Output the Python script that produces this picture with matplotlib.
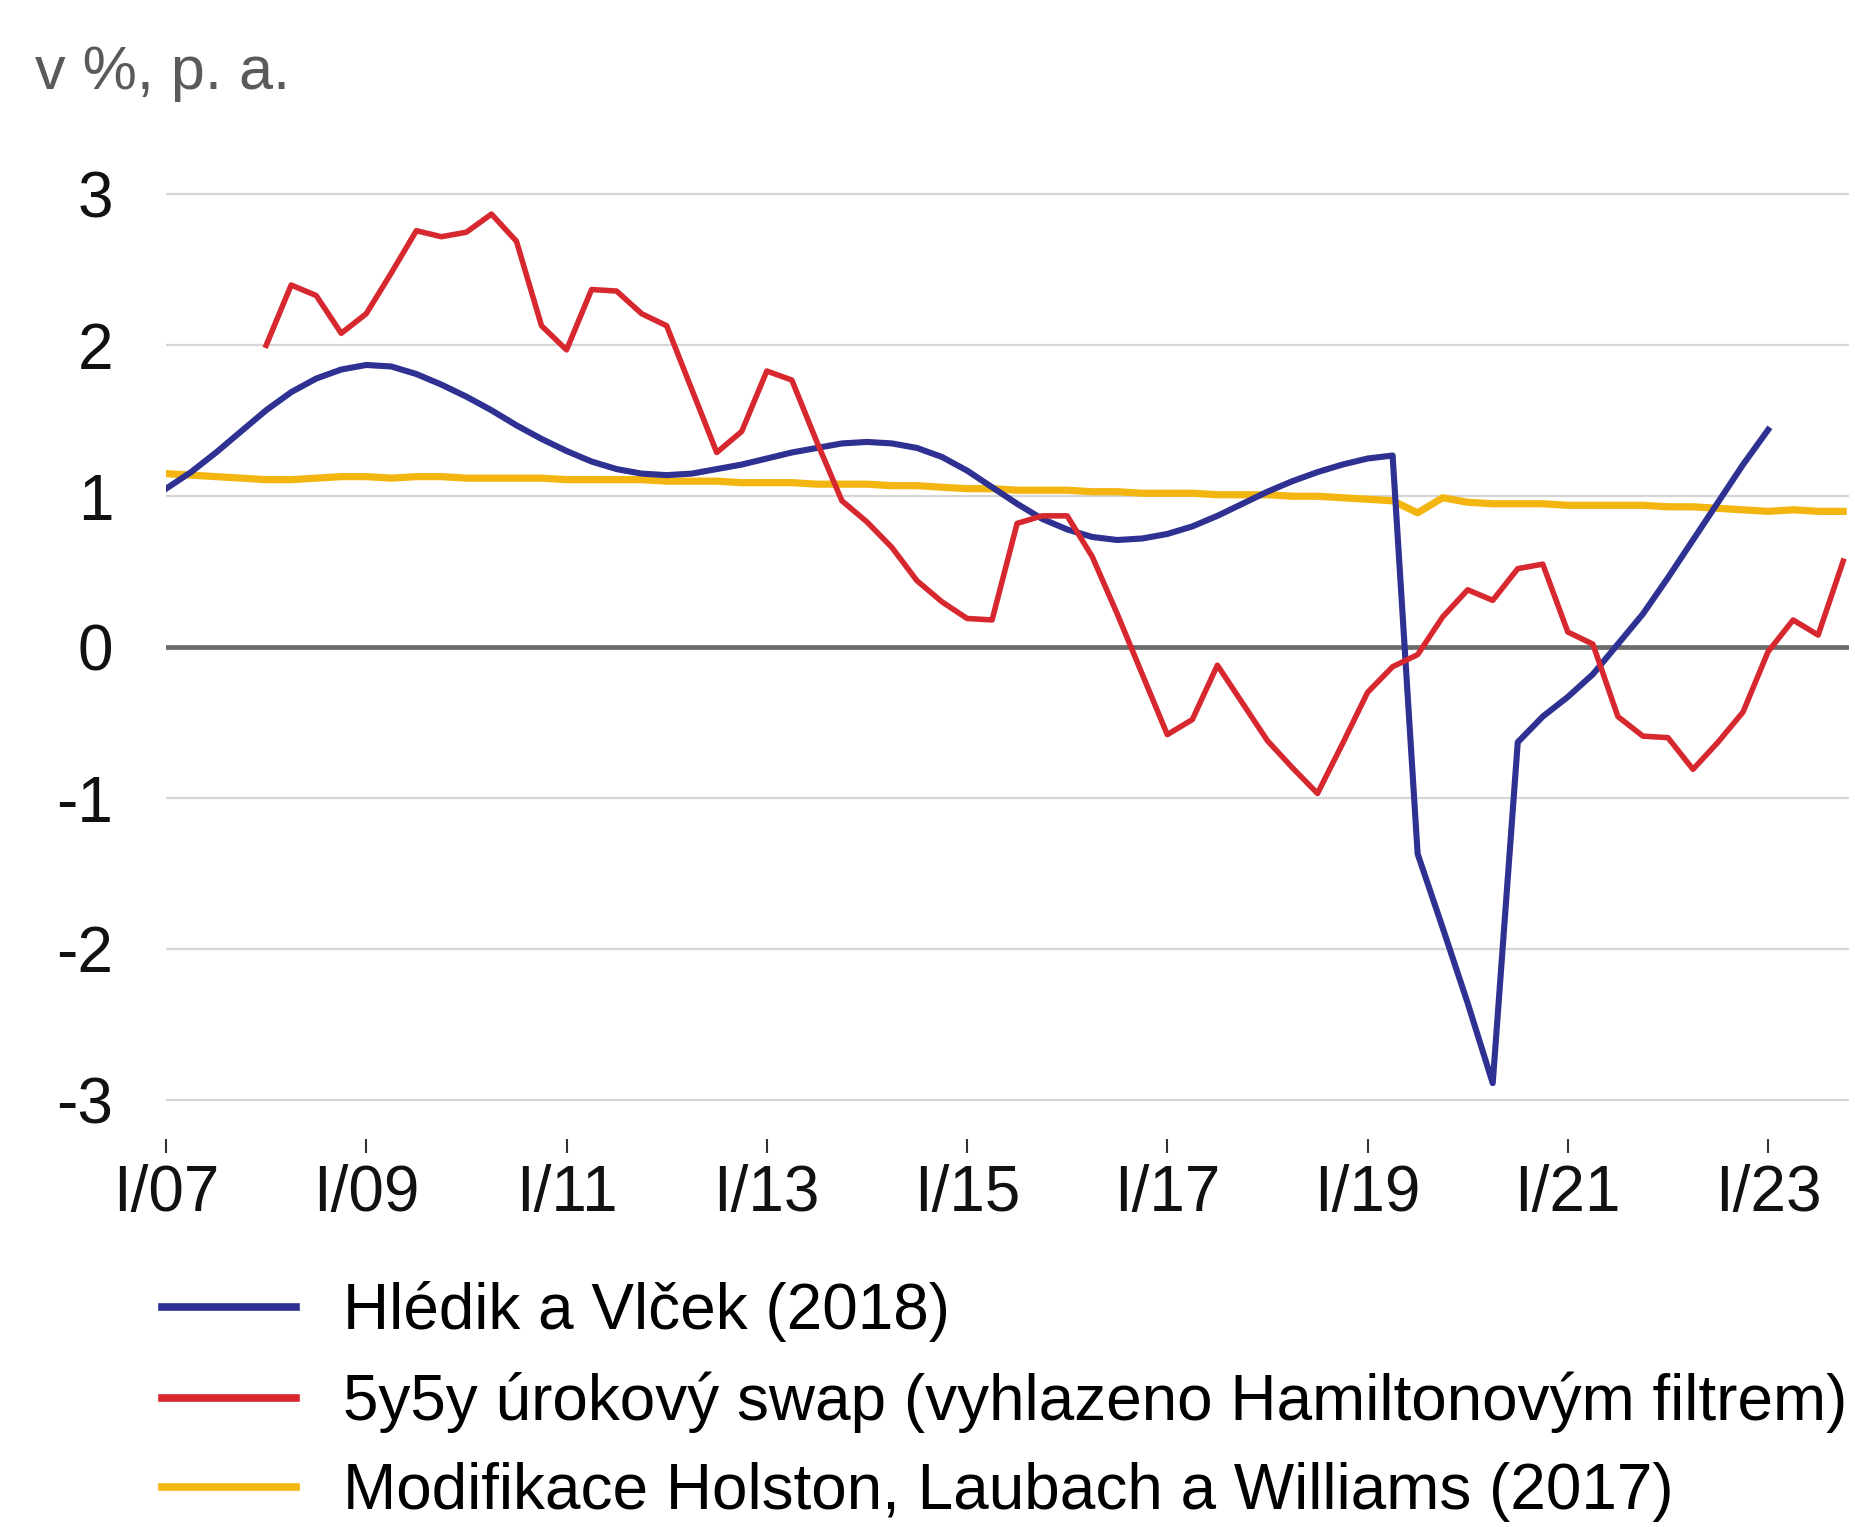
import numpy as np
import matplotlib

matplotlib.use("Agg")
import matplotlib.pyplot as plt
from matplotlib.lines import Line2D

# 字体：Arial 风格
plt.rcParams["font.family"] = ["Liberation Sans", "DejaVu Sans"]
plt.rcParams["axes.unicode_minus"] = False

# ==================== 数据 ====================
# 季度：I/07 ... IV/23
quarters = [f"{q}/{y:02d}" for y in range(7, 24) for q in ["I", "II", "III", "IV"]]
xtick_labels = ["I/07", "I/09", "I/11", "I/13", "I/15", "I/17", "I/19", "I/21", "I/23"]
ytick_values = [-3, -2, -1, 0, 1, 2, 3]
ytick_labels = ["-3", "-2", "-1", "0", "1", "2", "3"]

# Hlédik a Vlček (2018): I/07 - I/23
hledik_vlcek = [
    1.05, 1.16, 1.29, 1.43, 1.57, 1.69, 1.78, 1.84, 1.87, 1.86,
    1.81, 1.74, 1.66, 1.57, 1.47, 1.38, 1.30, 1.23, 1.18, 1.15,
    1.14, 1.15, 1.18, 1.21, 1.25, 1.29, 1.32, 1.35, 1.36, 1.35,
    1.32, 1.26, 1.17, 1.06, 0.95, 0.85, 0.78, 0.73, 0.71, 0.72,
    0.75, 0.80, 0.87, 0.95, 1.03, 1.10, 1.16, 1.21, 1.25, 1.27,
    -1.37, -1.86, -2.36, -2.89, -0.63, -0.46, -0.33, -0.18, 0.02, 0.22,
    0.46, 0.71, 0.96, 1.21, 1.44,
]

# 5y5y úrokový swap: I/08 - IV/23
swap_5y5y = [
    np.nan, np.nan, np.nan, np.nan,
    2.00, 2.40, 2.33, 2.08, 2.21, 2.48, 2.76, 2.72, 2.75, 2.87,
    2.69, 2.13, 1.97, 2.37, 2.36, 2.21, 2.13, 1.71, 1.29, 1.43,
    1.83, 1.77, 1.36, 0.97, 0.83, 0.66, 0.44, 0.30, 0.19, 0.18,
    0.82, 0.87, 0.87, 0.60, 0.22, -0.18, -0.58, -0.48, -0.12, -0.37,
    -0.62, -0.80, -0.97, -0.64, -0.30, -0.13, -0.05, 0.20, 0.38, 0.31,
    0.52, 0.55, 0.10, 0.02, -0.46, -0.59, -0.60, -0.81, -0.63, -0.43,
    -0.03, 0.18, 0.08, 0.57,
]

# Modifikace Holston, Laubach a Williams (2017): I/07 - IV/23
hlw_2017 = [
    1.15, 1.14, 1.13, 1.12, 1.11, 1.11, 1.12, 1.13, 1.13, 1.12,
    1.13, 1.13, 1.12, 1.12, 1.12, 1.12, 1.11, 1.11, 1.11, 1.11,
    1.10, 1.10, 1.10, 1.09, 1.09, 1.09, 1.08, 1.08, 1.08, 1.07,
    1.07, 1.06, 1.05, 1.05, 1.04, 1.04, 1.04, 1.03, 1.03, 1.02,
    1.02, 1.02, 1.01, 1.01, 1.01, 1.00, 1.00, 0.99, 0.98, 0.97,
    0.89, 0.99, 0.96, 0.95, 0.95, 0.95, 0.94, 0.94, 0.94, 0.94,
    0.93, 0.93, 0.92, 0.91, 0.90, 0.91, 0.90, 0.90,
]

series_labels = [
    "Hlédik a Vlček (2018)",
    "5y5y úrokový swap (vyhlazeno Hamiltonovým filtrem)",
    "Modifikace Holston, Laubach a Williams (2017)",
]
colors = ["#2e3192", "#d7282f", "#f3b50f"]

# ==================== 绘图 ====================
x = np.arange(len(quarters))

fig = plt.figure(figsize=(18.55, 15.27), dpi=100)
ax = fig.add_axes([0.0895, 0.2541, 0.9075, 0.6215])

# 网格线与零线
for v in ytick_values:
    if v == 0:
        ax.axhline(v, color="#6b6b6b", lw=3.4, zorder=1)
    else:
        ax.axhline(v, color="#d6d6d6", lw=1.6, zorder=0)

ax.plot(x[: len(hlw_2017)], hlw_2017, color=colors[2], lw=5.2, zorder=2)
ax.plot(x[: len(hledik_vlcek)], hledik_vlcek, color=colors[0], lw=4.4, zorder=3)
ax.plot(x[: len(swap_5y5y)], swap_5y5y, color=colors[1], lw=4.0, zorder=4)

ax.set_xlim(0, 67.25)
ax.set_ylim(-3.26, 3.03)

ax.set_xticks([quarters.index(l) for l in xtick_labels])
ax.set_xticklabels(xtick_labels)
ax.set_yticks(ytick_values)
ax.set_yticklabels(ytick_labels)

ax.tick_params(axis="x", length=10, width=1.5, color="#333333", pad=8,
               labelsize=46, labelcolor="#111111")
ax.tick_params(axis="y", length=0, pad=38, labelsize=46, labelcolor="#111111")

for s in ax.spines.values():
    s.set_visible(False)

# 单位
fig.text(35 / 1855, 1 - 73 / 1527, "v %, p. a.", ha="left", va="center",
         fontsize=44, color="#5a5a5a")

# 图例（底部留出一点空间，避免最后一行被裁切）
handles = [Line2D([], [], color=c, lw=5.5) for c in colors]
fig.legend(handles, series_labels, loc="upper left",
           bbox_to_anchor=(0.0873, 0.161), frameon=False, fontsize=46,
           handlelength=2.1, handletextpad=0.73, labelspacing=0.46,
           borderpad=0, borderaxespad=0)

fig.savefig("out.png", dpi=100)
